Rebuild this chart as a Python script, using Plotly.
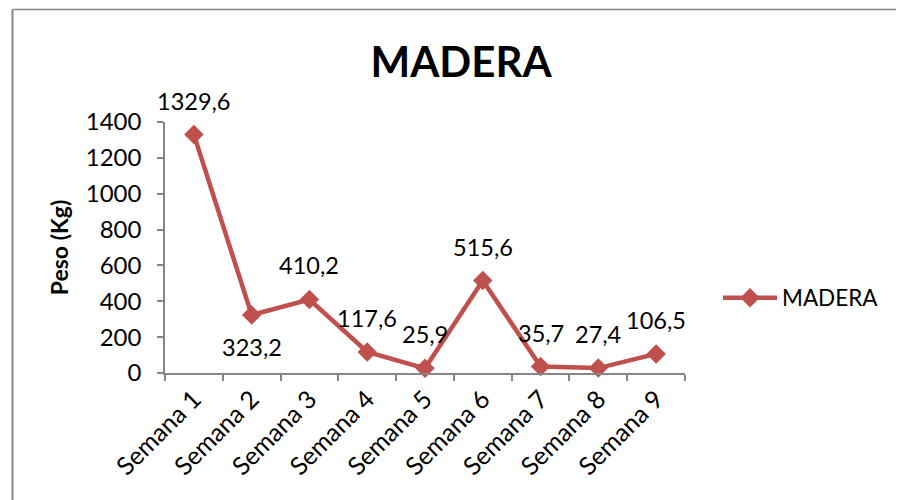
import plotly.graph_objects as go

categories = ["Semana 1", "Semana 2", "Semana 3", "Semana 4", "Semana 5",
              "Semana 6", "Semana 7", "Semana 8", "Semana 9"]
values = [1329.6, 323.2, 410.2, 117.6, 25.9, 515.6, 35.7, 27.4, 106.5]
label_side = ["top", "bottom", "top", "top", "top", "top", "top", "top", "top"]
series_name = "MADERA"
y_ticks = [0, 200, 400, 600, 800, 1000, 1200, 1400]

RED = "#C0504D"
GREY = "#868686"
FONT = "Lato, Calibri, sans-serif"

fig = go.Figure()
fig.add_trace(go.Scatter(
    x=categories, y=values, mode="lines+markers", name=series_name,
    line=dict(color=RED, width=4.5),
    marker=dict(symbol="diamond", size=15, color=RED),
    cliponaxis=False,
))

annotations = []
for c, v, side in zip(categories, values, label_side):
    annotations.append(dict(
        x=c, y=v, xref="x", yref="y",
        text=f"{v:.1f}".replace(".", ","),
        showarrow=False, yshift=34 if side == "top" else -32,
        font=dict(family=FONT, size=23.5, color="black"),
    ))

# page has an 8px body margin, so the figure is 8px smaller than the window
OFF = 8
W, H = 904 - OFF, 500 - OFF
PL, PR, PT, PB = 165, 685, 122, 373   # plot area in page pixels
L, R, T, B = PL - OFF, 904 - PR, PT - OFF, 500 - PB
pw, ph = PR - PL, PB - PT

def px_x(px):
    return (px - PL) / pw

def px_y(py):
    return (PB - py) / ph

shapes = [
    dict(type="line", xref="paper", yref="paper",
         x0=px_x(12.5), y0=px_y(9.5), x1=px_x(904), y1=px_y(9.5),
         line=dict(color=GREY, width=1.5)),
    dict(type="line", xref="paper", yref="paper",
         x0=px_x(12.5), y0=px_y(9.5), x1=px_x(12.5), y1=px_y(500),
         line=dict(color=GREY, width=2)),
]

fig.update_layout(
    width=W, height=H,
    margin=dict(l=L, r=R, t=T, b=B),
    paper_bgcolor="white", plot_bgcolor="white",
    font=dict(family=FONT, size=24, color="black"),
    title=dict(text="<b>MADERA</b>", x=(461 - OFF) / W, xref="container", xanchor="center",
               y=1 - (62 - OFF) / H, yref="container", yanchor="middle",
               font=dict(family=FONT, size=42, color="black")),
    showlegend=True,
    legend=dict(x=px_x(718), y=px_y(298), xanchor="left", yanchor="middle",
                itemwidth=54,
                font=dict(family=FONT, size=22.5, color="black"),
                bgcolor="rgba(0,0,0,0)"),
    annotations=annotations,
    shapes=shapes,
)

fig.update_xaxes(
    type="category", range=[-0.5, 8.5],
    showline=True, linecolor=GREY, linewidth=1.5,
    ticks="outside", ticklen=6, tickcolor=GREY, tickwidth=1.5,
    tickson="boundaries", tickangle=-45,
    showgrid=False, zeroline=False,
    tickfont=dict(family=FONT, size=25, color="black"),
)
fig.update_yaxes(
    range=[0, 1400], tickvals=y_ticks,
    showline=True, linecolor=GREY, linewidth=1.5,
    ticks="outside", ticklen=6, tickcolor=GREY, tickwidth=1.5,
    ticklabelstandoff=11,
    showgrid=False, zeroline=False,
    tickfont=dict(family=FONT, size=24, color="black"),
    title=dict(text="<b>Peso (Kg)</b>", standoff=11,
               font=dict(family=FONT, size=23, color="black")),
)

fig.write_html("out.html")
